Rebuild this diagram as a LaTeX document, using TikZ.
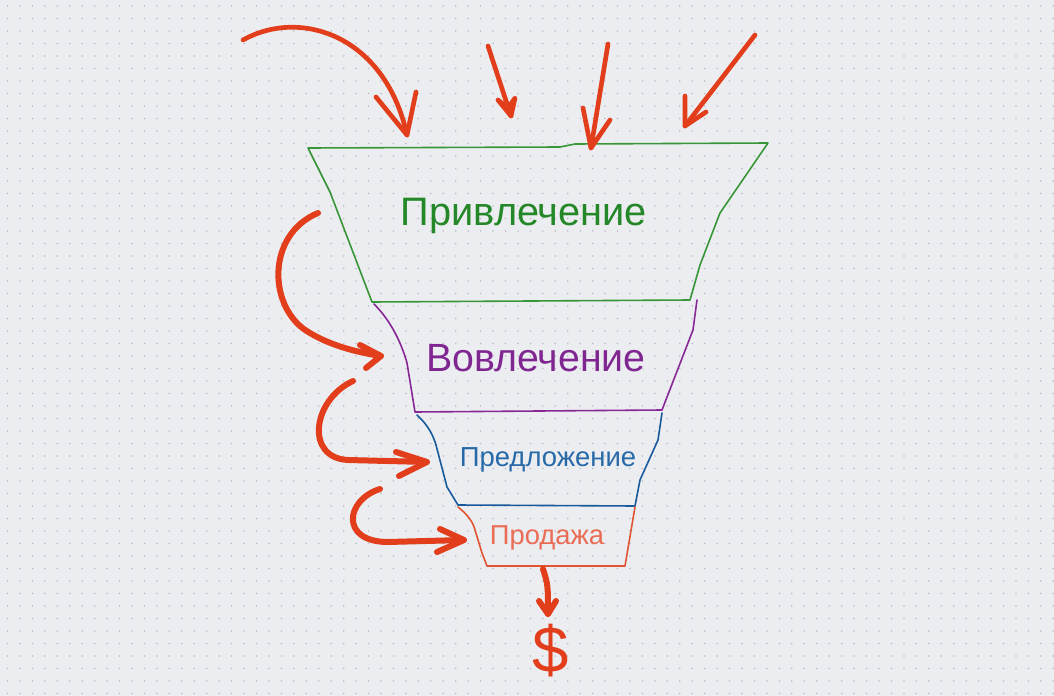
\documentclass[tikz,border=0pt]{standalone}
\usepackage{fontspec}
\setmainfont{Liberation Sans}
\definecolor{bg}{RGB}{236,237,241}
\definecolor{dotc}{RGB}{188,189,196}
\definecolor{fgreen}{RGB}{55,150,55}
\definecolor{tgreen}{RGB}{36,135,40}
\definecolor{fpurple}{RGB}{135,40,150}
\definecolor{tpurple}{RGB}{128,38,145}
\definecolor{fblue}{RGB}{25,90,155}
\definecolor{tblue}{RGB}{40,105,168}
\definecolor{forange}{RGB}{225,85,50}
\definecolor{torange}{RGB}{234,108,84}
\definecolor{redar}{RGB}{226,62,28}
\begin{document}
\begin{tikzpicture}[x=0.75pt,y=-0.75pt,
  funnel/.style={line width=1.2pt,line join=round,line cap=round},
  redstroke/.style={draw=redar,line width=3.5pt,line cap=round,line join=round},
  thickred/.style={draw=redar,line width=4.5pt,line cap=round,line join=round},
  label/.style={inner sep=0pt,anchor=center}]
\fill[bg] (0,0) rectangle (1054,696);
\useasboundingbox (0,0) rectangle (1054,696);
\foreach \i in {0,...,84} {\foreach \j in {0,...,55} {\fill[dotc] (7.5+12.45*\i,6+12.5*\j) circle (0.65pt);}}
% funnel
\draw[funnel,fgreen] (308,148) -- (560,147) -- (575,144) -- (768,143) -- (720,213) -- (700,265) -- (690,300) -- (372,302) -- (330,192) -- cycle;
\draw[funnel,fpurple] (374,304) .. controls (392,322) and (402,345) .. (407,363) -- (415,412) -- (662,410) -- (693,330) -- (697,300);
\draw[funnel,fblue] (417,415) .. controls (428,425) and (433,435) .. (436,445) -- (447,487) -- (458,505) -- (635,506) -- (640,480) -- (658,440) -- (662,413);
\draw[funnel,forange] (458,507) .. controls (468,515) and (473,522) .. (475,530) -- (482,553) -- (487,566) -- (625,566) -- (635,507);
% labels
\node[label,text=tgreen,font=\fontsize{29.8}{30}\selectfont] (t1) at (524,216) {Привлечение};
\node[label,text=tpurple,font=\fontsize{29.5}{30}\selectfont] (t2) at (536,358) {Вовлечение};
\node[label,text=tblue,font=\fontsize{20.6}{21}\selectfont] (t3) at (548,460) {Предложение};
\node[label,text=torange,font=\fontsize{20.5}{21}\selectfont] (t4) at (547,538) {Продажа};
\node[label,text=redar,font=\fontsize{49}{49}\selectfont] (dollar) at (551,651) {\$};
% top arrows
\coordinate (a1s) at (243,40); \coordinate (a1t) at (407,135);
\coordinate (a1l) at (376,97); \coordinate (a1r) at (416,92);
\draw[redstroke] (a1s) .. controls (300,8) and (385,35) .. (a1t);
\draw[redstroke] (a1l) -- (a1t) -- (a1r);
\coordinate (a2s) at (488,46); \coordinate (a2t) at (511,116);
\coordinate (a2l) at (498,100); \coordinate (a2r) at (515,98);
\draw[redstroke] (a2s) -- (a2t);
\draw[redstroke] (a2l) -- (a2t) -- (a2r) -- (508,108) -- cycle;
\coordinate (a3s) at (608,44); \coordinate (a3t) at (591,148);
\coordinate (a3l) at (583,108); \coordinate (a3r) at (610,120);
\draw[redstroke] (a3s) -- (a3t);
\draw[redstroke] (a3l) -- (a3t) -- (a3r);
\coordinate (a4s) at (755,35); \coordinate (a4t) at (685,126);
\coordinate (a4l) at (685,96); \coordinate (a4r) at (706,112);
\draw[redstroke] (a4s) -- (a4t);
\draw[redstroke] (a4l) -- (a4t) -- (a4r);
% left arrows
\coordinate (b1s) at (318,213); \coordinate (b1t) at (381,356);
\coordinate (b1l) at (360,345); \coordinate (b1r) at (366,368);
\draw[thickred] (b1s) .. controls (265,235) and (268,310) .. (310,333) .. controls (330,345) and (355,352) .. (b1t);
\draw[thickred] (b1l) -- (b1t) -- (b1r);
\coordinate (b2s) at (353,381); \coordinate (b2t) at (427,462);
\coordinate (b2l) at (396,452); \coordinate (b2r) at (399,476);
\draw[thickred] (b2s) .. controls (312,400) and (305,458) .. (348,460) -- (b2t);
\draw[thickred] (b2l) -- (b2t) -- (b2r);
\coordinate (b3s) at (380,489); \coordinate (b3t) at (464,540);
\coordinate (b3l) at (440,529); \coordinate (b3r) at (437,552);
\draw[thickred] (b3s) .. controls (345,500) and (340,542) .. (388,542) -- (b3t);
\draw[thickred] (b3l) -- (b3t) -- (b3r);
% down arrow
\coordinate (c1s) at (543,569); \coordinate (c1t) at (548,614);
\coordinate (c1l) at (539,601); \coordinate (c1r) at (556,601);
\draw[thickred] (c1s) .. controls (548,585) .. (c1t);
\draw[thickred] (c1l) -- (c1t) -- (c1r);
\end{tikzpicture}
\end{document}
